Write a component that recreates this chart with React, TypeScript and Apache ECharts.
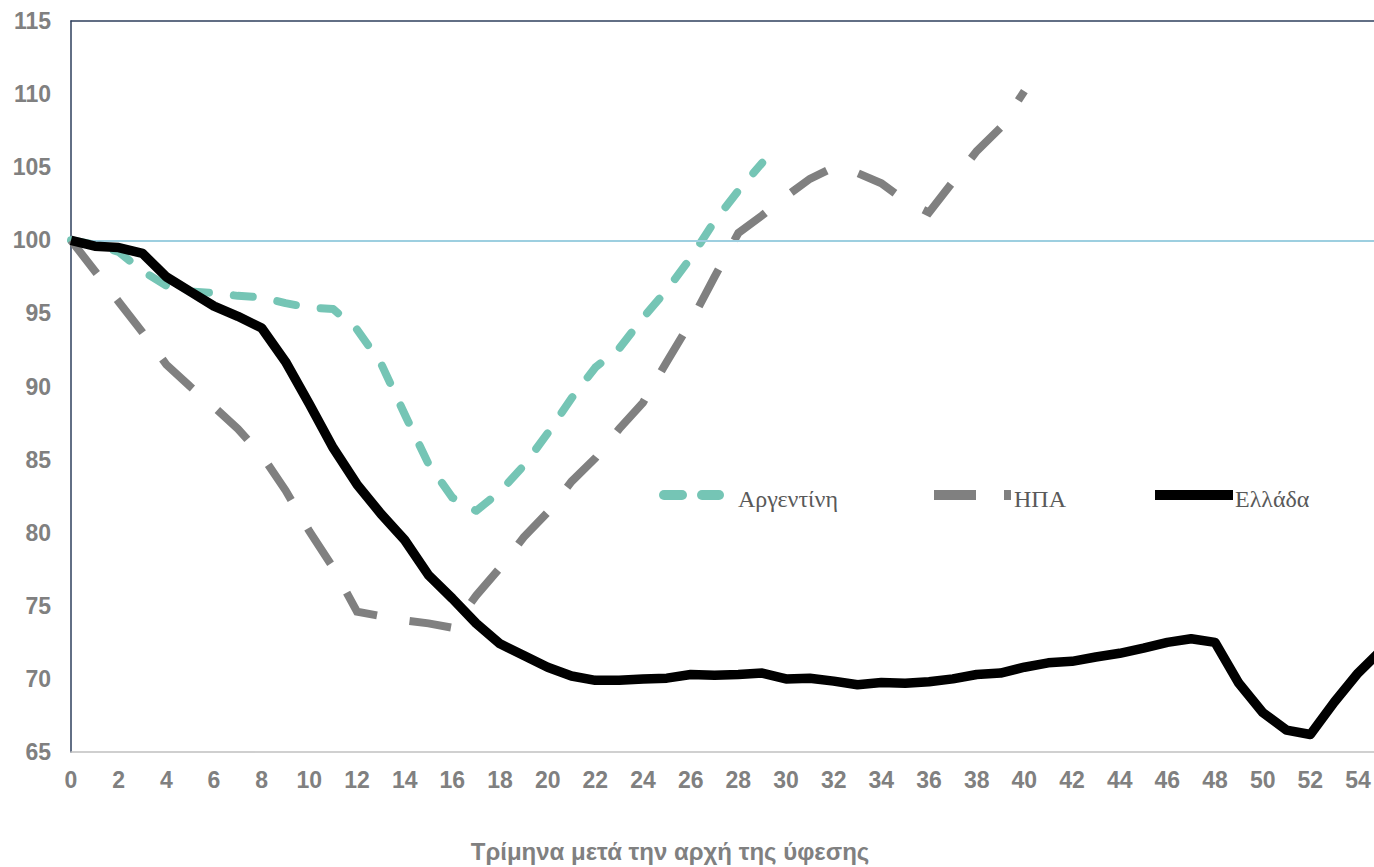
import React, { useEffect, useRef } from "react";
import * as echarts from "echarts";

const greece = [100, 99.6, 99.5, 99.1, 97.5, 96.5, 95.5, 94.8, 94.0, 91.7, 88.8, 85.8, 83.3, 81.3, 79.5, 77.1, 75.5, 73.8, 72.4, 71.6, 70.8, 70.2, 69.9, 69.9, 70.0, 70.05, 70.3, 70.25, 70.3, 70.4, 70.0, 70.05, 69.85, 69.6, 69.75, 69.7, 69.8, 70.0, 70.3, 70.4, 70.8, 71.1, 71.2, 71.5, 71.75, 72.1, 72.5, 72.75, 72.5, 69.7, 67.7, 66.5, 66.2, 68.4, 70.4, 72.0];
const argentina = [100, 99.7, 99.2, 97.9, 96.9, 96.5, 96.4, 96.2, 96.1, 95.7, 95.4, 95.3, 93.9, 91.6, 88.1, 84.7, 82.4, 81.5, 82.8, 84.6, 86.8, 89.2, 91.3, 92.6, 94.7, 96.6, 98.8, 101.3, 103.4, 105.3];
const usa = [100, 97.9, 95.8, 93.7, 91.5, 90.0, 88.6, 87.1, 85.3, 82.9, 80.1, 77.6, 74.6, 74.3, 74.0, 73.8, 73.5, 75.7, 77.6, 79.7, 81.4, 83.5, 85.1, 87.1, 88.9, 91.7, 94.4, 97.5, 100.5, 101.7, 103.0, 104.2, 105.0, 104.6, 103.9, 102.7, 101.9, 104.0, 106.1, 107.7, 110.2];
const baseline = 100;
const names = { arg: "Αργεντίνη", usa: "ΗΠΑ", gre: "Ελλάδα" };
const xTitle = "Τρίμηνα μετά την αρχή της ύφεσης";

const TEAL = "#75c5b5";
const GRAY = "#808080";

const pairs = (arr: number[]) => arr.map((v, i) => [i, v]);

export default function App() {
  const ref = useRef<HTMLDivElement>(null);
  useEffect(() => {
    if (!ref.current) return;
    const chart = echarts.init(ref.current, null, { renderer: "svg" });
    const labelStyle = { color: GRAY, fontWeight: "bold" as const, fontSize: 23, fontFamily: "Liberation Sans, Arial, sans-serif" };
    const legendFont = { fontSize: 24, fontFamily: "Liberation Serif, Times New Roman, serif", fill: "#595959" };
    const ly = 495;
    chart.setOption({
      animation: false,
      grid: { left: 71, right: 0, top: 21, bottom: 115 },
      xAxis: [
        {
          type: "value",
          min: 0,
          max: 54.67,
          interval: 2,
          splitLine: { show: false },
          axisTick: { show: false },
          axisLine: { show: true, lineStyle: { color: "#c0c0c0", width: 1.5 } },
          axisLabel: { ...labelStyle, margin: 16, showMaxLabel: false },
        },
        {
          type: "value",
          position: "top",
          min: 0,
          max: 54.67,
          splitLine: { show: false },
          axisTick: { show: false },
          axisLabel: { show: false },
          axisLine: { show: true, lineStyle: { color: "#2e3f5c", width: 1.5 } },
        },
      ],
      yAxis: {
        type: "value",
        min: 65,
        max: 115,
        interval: 5,
        splitLine: { show: false },
        axisTick: { show: false },
        axisLine: { show: true, lineStyle: { color: "#2e3f5c", width: 1.5 } },
        axisLabel: { ...labelStyle, margin: 20 },
      },
      series: [
        {
          name: names.arg,
          type: "line",
          data: pairs(argentina),
          symbol: "none",
          clip: true,
          lineStyle: { color: TEAL, width: 8, type: [19, 25], cap: "round", join: "round" },
          z: 2,
        },
        {
          name: names.usa,
          type: "line",
          data: pairs(usa),
          symbol: "none",
          clip: true,
          lineStyle: { color: GRAY, width: 8, type: [42, 33], cap: "butt", join: "miter" },
          z: 3,
        },
        {
          name: "ref",
          type: "line",
          data: [],
          symbol: "none",
          z: 4,
          markLine: {
            silent: true,
            symbol: "none",
            label: { show: false },
            lineStyle: { color: "#9dcfe0", width: 2, type: "solid" },
            data: [{ yAxis: baseline }],
          },
        },
        {
          name: names.gre,
          type: "line",
          data: pairs(greece),
          symbol: "none",
          clip: true,
          lineStyle: { color: "#000000", width: 9.5, type: "solid", join: "round" },
          z: 5,
        },
      ],
      graphic: [
        { type: "line", shape: { x1: 664, y1: ly, x2: 682, y2: ly }, style: { stroke: TEAL, lineWidth: 10, lineCap: "round" } },
        { type: "line", shape: { x1: 702, y1: ly, x2: 719, y2: ly }, style: { stroke: TEAL, lineWidth: 10, lineCap: "round" } },
        { type: "text", x: 738, y: ly + 4, style: { text: names.arg, ...legendFont, verticalAlign: "middle", align: "left" } },
        { type: "rect", shape: { x: 934, y: ly - 5, width: 42, height: 10 }, style: { fill: GRAY } },
        { type: "rect", shape: { x: 1004, y: ly - 5, width: 7, height: 10 }, style: { fill: GRAY } },
        { type: "text", x: 1014, y: ly + 4, style: { text: names.usa, ...legendFont, verticalAlign: "middle", align: "left" } },
        { type: "rect", shape: { x: 1155, y: ly - 5, width: 78, height: 10 }, style: { fill: "#000" } },
        { type: "text", x: 1235, y: ly + 4, style: { text: names.gre, ...legendFont, verticalAlign: "middle", align: "left" } },
        {
          type: "text",
          x: 670,
          y: 851,
          style: { text: xTitle, fontSize: 24, fontWeight: "bold", fontFamily: "Liberation Sans, Arial, sans-serif", fill: GRAY, align: "center", verticalAlign: "middle" },
        },
      ],
    });
    return () => chart.dispose();
  }, []);
  return <div ref={ref} style={{ position: "fixed", left: 0, top: 0, width: 1374, height: 867, background: "#fff" }} />;
}
